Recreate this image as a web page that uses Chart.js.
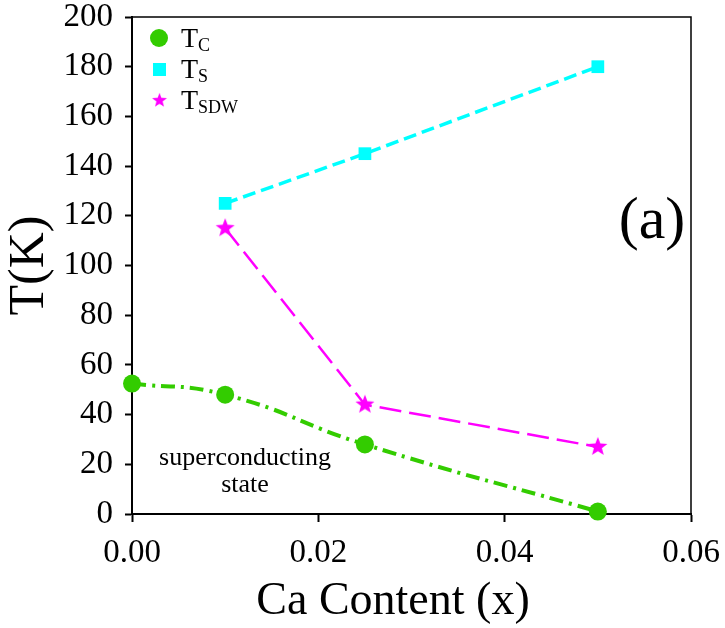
<!DOCTYPE html>
<html>
<head>
<meta charset="utf-8">
<script src="https://cdn.jsdelivr.net/npm/chart.js@4/dist/chart.umd.min.js"></script>
<style>
  html, body { margin: 0; padding: 0; background: #fff; }
  #wrap { width: 725px; height: 628px; position: relative; }
</style>
</head>
<body>
<div id="wrap"><canvas id="tChart"></canvas></div>
<script>
// datos
const caContent = [0.00, 0.01, 0.025, 0.05];
const tcValues = [52.5, 48, 28, 1];
const tsX = [0.01, 0.025, 0.05];
const tsValues = [125, 145, 180];
const tsdwX = [0.01, 0.025, 0.05];
const tsdwValues = [115, 44, 27];
const xTicks = [0, 0.02, 0.04, 0.06];
const yTicks = [0, 20, 40, 60, 80, 100, 120, 140, 160, 180, 200];

const SERIF = "'Liberation Serif', 'DejaVu Serif', serif";

function pares(xs, ys) {
  return xs.map((x, i) => ({ x: x, y: ys[i] }));
}

// estrella rellena de 5 puntas para T_SDW
function crearEstrella(r, color) {
  const c = document.createElement("canvas");
  c.width = c.height = r * 2 + 2;
  const g = c.getContext("2d");
  g.translate(r + 1, r + 1);
  g.beginPath();
  for (let i = 0; i < 10; i++) {
    const rad = i % 2 === 0 ? r : r * 0.42;
    const a = -Math.PI / 2 + i * Math.PI / 5;
    g.lineTo(rad * Math.cos(a), rad * Math.sin(a));
  }
  g.closePath();
  g.fillStyle = color;
  g.fill();
  return c;
}
const estrella = crearEstrella(10, "#ff00ff");

// sin margen extra por las etiquetas de los ejes
function sinPadding(s) {
  s.paddingTop = 0;
  s.paddingBottom = 0;
  s.paddingLeft = 0;
  s.paddingRight = 0;
}

// marco superior/derecho
const marco = {
  id: "marco",
  afterDraw(chart) {
    const { ctx, chartArea: a } = chart;
    ctx.save();
    ctx.strokeStyle = "#000";
    ctx.lineWidth = 1.5;
    ctx.beginPath();
    ctx.moveTo(a.left, a.top);
    ctx.lineTo(a.right, a.top);
    ctx.lineTo(a.right, a.bottom);
    ctx.stroke();
    ctx.restore();
  }
};

// leyenda con subindices, titulo del eje x y textos
const anotaciones = {
  id: "anotaciones",
  afterDraw(chart) {
    const ctx = chart.ctx;
    const ds = chart.data.datasets;
    const filas = [
      { y: 38, main: "T", sub: "C" },
      { y: 69, main: "T", sub: "S" },
      { y: 100, main: "T", sub: "SDW" }
    ];
    ctx.save();
    filas.forEach((f, i) => {
      const d = ds[i];
      const mx = 159;
      ctx.fillStyle = d.backgroundColor;
      if (d.pointStyle === "circle") {
        ctx.beginPath();
        ctx.arc(mx, f.y, 9, 0, Math.PI * 2);
        ctx.fill();
      } else if (d.pointStyle === "rect") {
        ctx.fillRect(mx - 6, f.y - 6, 13, 13);
      } else {
        ctx.drawImage(estrella, mx - 8, f.y - 8, 17, 17);
      }
      ctx.fillStyle = "#000";
      ctx.textBaseline = "alphabetic";
      ctx.textAlign = "left";
      ctx.font = "28px " + SERIF;
      ctx.fillText(f.main, 181, f.y + 9);
      const w = ctx.measureText(f.main).width;
      ctx.font = "18px " + SERIF;
      ctx.fillText(f.sub, 181 + w, f.y + 13);
    });

    ctx.textAlign = "center";
    ctx.textBaseline = "middle";
    ctx.font = "46px " + SERIF;
    ctx.fillText("Ca Content (x)", 393, 602);

    ctx.font = "60px " + SERIF;
    ctx.fillText("(a)", 652, 222);

    ctx.font = "26px " + SERIF;
    ctx.fillText("superconducting", 245, 458);
    ctx.fillText("state", 245, 485);
    ctx.restore();
  }
};

const canvas = document.getElementById("tChart");
new Chart(canvas.getContext("2d"), {
  type: "line",
  data: {
    datasets: [
      {
        label: "Tc",
        data: pares(caContent, tcValues),
        borderColor: "#33cc00",
        backgroundColor: "#33cc00",
        borderWidth: 4,
        borderDash: [14, 6, 3, 6],
        tension: 0.5,
        clip: false,
        pointStyle: "circle",
        pointRadius: 9,
        pointBorderWidth: 0
      },
      {
        label: "Ts",
        data: pares(tsX, tsValues),
        borderColor: "#00ffff",
        backgroundColor: "#00ffff",
        borderWidth: 3.5,
        borderDash: [13, 6],
        tension: 0,
        clip: false,
        pointStyle: "rect",
        pointRadius: 9,
        pointBorderWidth: 0
      },
      {
        label: "Tsdw",
        data: pares(tsdwX, tsdwValues),
        borderColor: "#ff00ff",
        backgroundColor: "#ff00ff",
        borderWidth: 2.5,
        borderDash: [22, 8],
        tension: 0,
        clip: false,
        pointStyle: estrella,
        pointRadius: 10
      }
    ]
  },
  options: {
    responsive: true,
    maintainAspectRatio: false,
    animation: false,
    layout: { padding: { top: 17, right: 34, left: 0, bottom: 0 } },
    plugins: { legend: { display: false }, tooltip: { enabled: false } },
    scales: {
      x: {
        type: "linear",
        min: 0,
        max: 0.06,
        afterFit: s => { s.height = 114; sinPadding(s); },
        afterBuildTicks: s => { s.ticks = xTicks.map(v => ({ value: v })); },
        grid: { drawOnChartArea: false, drawTicks: true, tickLength: 8, tickColor: "#000", tickWidth: 2 },
        border: { display: true, color: "#000", width: 2 },
        ticks: {
          color: "#000",
          padding: 12,
          maxRotation: 0,
          font: { family: SERIF, size: 33 },
          callback: v => v.toFixed(2)
        },
        title: { display: false }
      },
      y: {
        min: 0,
        max: 200,
        afterFit: s => { s.width = 132; sinPadding(s); },
        afterBuildTicks: s => { s.ticks = yTicks.map(v => ({ value: v })); },
        grid: { drawOnChartArea: false, drawTicks: true, tickLength: 7, tickColor: "#000", tickWidth: 2 },
        border: { display: true, color: "#000", width: 2 },
        ticks: {
          color: "#000",
          padding: 12,
          font: { family: SERIF, size: 33 }
        },
        title: {
          display: true,
          text: "T(K)",
          color: "#000",
          font: { family: SERIF, size: 50, lineHeight: 1 },
          padding: { top: 5, bottom: 0 }
        }
      }
    }
  },
  plugins: [marco, anotaciones]
});
</script>
</body>
</html>
